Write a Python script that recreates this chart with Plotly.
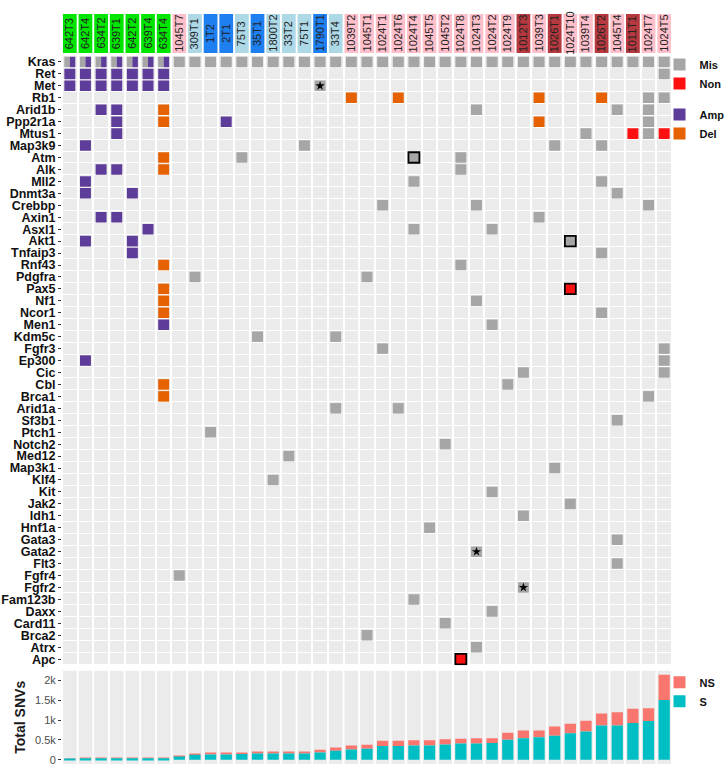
import plotly.graph_objects as go

# ---------------- data ----------------
samples = ["642T3", "642T4", "634T2", "639T1", "642T2", "639T4", "634T4", "1045T7",
           "309T1", "1T2", "2T1", "75T3", "35T1", "1800T2", "33T2", "75T1", "1790T1",
           "33T4", "1039T2", "1045T1", "1024T1", "1024T6", "1024T4", "1045T5", "1045T2",
           "1024T8", "1024T3", "1024T2", "1024T9", "1012T3", "1039T3", "1026T1",
           "1024T10", "1039T4", "1026T2", "1045T4", "1011T1", "1024T7", "1024T5"]
sample_group = (["G"] * 7 + ["P", "L", "B", "B", "L", "B", "L", "L", "L", "B", "L"]
                + ["P"] * 11 + ["D", "P", "D", "P", "P", "D", "P", "D", "P", "P"])
group_colors = {"G": "#00E600", "P": "#FFC0CB", "L": "#ADD8E6", "B": "#1E7FF0", "D": "#B5393E"}

genes = ["Kras", "Ret", "Met", "Rb1", "Arid1b", "Ppp2r1a", "Mtus1", "Map3k9", "Atm", "Alk",
         "Mll2", "Dnmt3a", "Crebbp", "Axin1", "Asxl1", "Akt1", "Tnfaip3", "Rnf43", "Pdgfra",
         "Pax5", "Nf1", "Ncor1", "Men1", "Kdm5c", "Fgfr3", "Ep300", "Cic", "Cbl", "Brca1",
         "Arid1a", "Sf3b1", "Ptch1", "Notch2", "Med12", "Map3k1", "Klf4", "Kit", "Jak2",
         "Idh1", "Hnf1a", "Gata3", "Gata2", "Flt3", "Fgfr4", "Fgfr2", "Fam123b", "Daxx",
         "Card11", "Brca2", "Atrx", "Apc"]

green = samples[:7]
amp_cells = ([("Kras", s) for s in green] + [("Ret", s) for s in green] + [("Met", s) for s in green]
             + [("Arid1b", "634T2"), ("Arid1b", "639T1"), ("Ppp2r1a", "639T1"), ("Ppp2r1a", "2T1"),
                ("Mtus1", "639T1"), ("Map3k9", "642T4"), ("Alk", "634T2"), ("Alk", "639T1"),
                ("Mll2", "642T4"), ("Dnmt3a", "642T4"), ("Dnmt3a", "642T2"), ("Axin1", "634T2"),
                ("Axin1", "639T1"), ("Asxl1", "639T4"), ("Akt1", "642T4"), ("Akt1", "642T2"),
                ("Tnfaip3", "642T2"), ("Men1", "634T4"), ("Ep300", "642T4")])
del_cells = [("Rb1", "1039T2"), ("Rb1", "1024T6"), ("Rb1", "1039T3"), ("Rb1", "1026T2"),
             ("Arid1b", "634T4"), ("Ppp2r1a", "634T4"), ("Ppp2r1a", "1039T3"), ("Atm", "634T4"),
             ("Alk", "634T4"), ("Rnf43", "634T4"), ("Pax5", "634T4"), ("Nf1", "634T4"),
             ("Ncor1", "634T4"), ("Cbl", "634T4"), ("Brca1", "634T4")]
non_cells = [("Mtus1", "1011T1"), ("Mtus1", "1024T5"), ("Pax5", "1024T10"), ("Apc", "1024T8")]
mis_cells = ([("Kras", s) for s in samples]
             + [("Ret", "1024T5"), ("Met", "1790T1"), ("Rb1", "1024T7"), ("Rb1", "1024T5"),
                ("Arid1b", "1024T3"), ("Arid1b", "1045T4"), ("Arid1b", "1024T7"),
                ("Ppp2r1a", "1024T7"), ("Mtus1", "1039T4"), ("Mtus1", "1024T7"),
                ("Map3k9", "75T1"), ("Map3k9", "1026T1"), ("Map3k9", "1026T2"),
                ("Atm", "75T3"), ("Atm", "1024T4"), ("Atm", "1024T8"), ("Alk", "1024T8"),
                ("Mll2", "1024T4"), ("Mll2", "1026T2"), ("Dnmt3a", "1045T4"),
                ("Crebbp", "1024T1"), ("Crebbp", "1024T3"), ("Crebbp", "1024T7"),
                ("Axin1", "1039T3"), ("Asxl1", "1024T4"), ("Asxl1", "1024T2"),
                ("Akt1", "1024T10"), ("Tnfaip3", "1026T2"), ("Rnf43", "1024T8"),
                ("Pdgfra", "309T1"), ("Pdgfra", "1045T1"), ("Nf1", "1024T3"), ("Ncor1", "1026T2"),
                ("Men1", "1024T2"), ("Kdm5c", "35T1"), ("Kdm5c", "33T4"), ("Fgfr3", "1024T1"),
                ("Fgfr3", "1024T5"), ("Ep300", "1024T5"), ("Cic", "1012T3"), ("Cic", "1024T5"),
                ("Cbl", "1024T9"), ("Brca1", "1024T7"), ("Arid1a", "33T4"), ("Arid1a", "1024T6"),
                ("Sf3b1", "1045T4"), ("Ptch1", "1T2"), ("Notch2", "1045T2"), ("Med12", "33T2"),
                ("Map3k1", "1026T1"), ("Klf4", "1800T2"), ("Kit", "1024T2"), ("Jak2", "1024T10"),
                ("Idh1", "1012T3"), ("Hnf1a", "1045T5"), ("Gata3", "1045T4"), ("Gata2", "1024T3"),
                ("Flt3", "1045T4"), ("Fgfr4", "1045T7"), ("Fgfr2", "1012T3"), ("Fam123b", "1024T4"),
                ("Daxx", "1024T2"), ("Card11", "1045T2"), ("Brca2", "1045T1"), ("Atrx", "1024T3")])
outlined = [("Atm", "1024T4"), ("Akt1", "1024T10"), ("Pax5", "1024T10"), ("Apc", "1024T8")]
starred = [("Met", "1790T1"), ("Gata2", "1024T3"), ("Fgfr2", "1012T3")]

snv_total = [30, 45, 45, 45, 45, 45, 50, 100, 150, 175, 175, 185, 185, 195, 200, 210, 250, 310,
             360, 380, 480, 480, 490, 490, 515, 530, 545, 545, 680, 740, 740, 840, 910, 985,
             1170, 1200, 1285, 1300, 2145]
snv_s = [25, 38, 38, 38, 38, 38, 40, 80, 125, 135, 135, 145, 160, 160, 160, 160, 185, 225,
         260, 275, 345, 345, 360, 360, 385, 410, 410, 420, 505, 540, 565, 605, 670, 715,
         865, 865, 925, 975, 1510]
snv_ns = [t - s for t, s in zip(snv_total, snv_s)]

# ---------------- layout helpers ----------------
W, H = 725, 771
ML, MR, MT, MB = 62, 52.5, 14, 6.8
PW = W - ML - MR
PH = H - MT - MB


def py(y):
    return (H - MB - y) / PH


def px(x):
    return (x - ML) / PW


FONT = "Liberation Sans, Arial, sans-serif"
col = {s: i for i, s in enumerate(samples)}
row = {g: i for i, g in enumerate(genes)}

types = [("Mis", mis_cells, "#A6A6A6", "g1"), ("Non", non_cells, "#FF1010", "g1"),
         ("Amp", amp_cells, "#5E3C99", "g2"), ("Del", del_cells, "#E66101", "g2")]

cell_types = {}
for name, cells, _, _ in types:
    for c in cells:
        cell_types.setdefault(c, []).append(name)

fig = go.Figure()

fig.add_trace(go.Heatmap(x=list(range(len(samples))), y=list(range(len(genes))),
                         z=[[0] * len(samples) for _ in genes],
                         colorscale=[[0, "#EBEBEB"], [1, "#EBEBEB"]], showscale=False,
                         xgap=2, ygap=1, hoverinfo="skip", xaxis="x", yaxis="y"))

CW, CH = 0.7, 0.88
for name, cells, color, grp in types:
    xs, bases, widths, lws = [], [], [], []
    for g, s in cells:
        shared = cell_types[(g, s)]
        k = len(shared)
        j = shared.index(name)
        w = CW / k
        xs.append(col[s] - CW / 2 + w * (j + 0.5) if k > 1 else col[s])
        widths.append(w)
        bases.append(row[g] - CH / 2)
        lws.append(1.8 if (g, s) in outlined else 0)
    fig.add_trace(go.Bar(x=xs, y=[CH] * len(xs), base=bases, width=widths,
                         marker=dict(color=color, line=dict(width=lws, color="black")),
                         name=name, legendgroup=grp, legend="legend",
                         xaxis="x", yaxis="y", hoverinfo="skip"))

fig.add_trace(go.Scatter(x=[col[s] for g, s in starred], y=[row[g] for g, s in starred],
                         mode="markers", marker=dict(symbol="star", size=7, color="black"),
                         showlegend=False, xaxis="x", yaxis="y", hoverinfo="skip"))

fig.add_trace(go.Bar(x=list(range(len(samples))), y=[1] * len(samples), base=0, width=0.88,
                     marker=dict(color=[group_colors[g] for g in sample_group], line=dict(width=0)),
                     showlegend=False, xaxis="x", yaxis="y3", hoverinfo="skip"))
annotations = []
for i, s in enumerate(samples):
    annotations.append(dict(x=i, y=0.5, xref="x", yref="y3", text=s, textangle=-90,
                            showarrow=False, font=dict(size=11, color="#222222", family=FONT)))

ylo, yhi = -107, 2252
fig.add_trace(go.Bar(x=list(range(len(samples))), y=[yhi - ylo] * len(samples), base=ylo,
                     width=0.88, marker=dict(color="#EBEBEB", line=dict(width=0)),
                     showlegend=False, xaxis="x", yaxis="y2", hoverinfo="skip"))
fig.add_trace(go.Bar(x=list(range(len(samples))), y=snv_ns, base=snv_s, width=0.72,
                     marker=dict(color="#F8766D", line=dict(width=0)), name="NS",
                     legend="legend2", xaxis="x", yaxis="y2"))
fig.add_trace(go.Bar(x=list(range(len(samples))), y=snv_s, base=0, width=0.72,
                     marker=dict(color="#00BFC4", line=dict(width=0)), name="S",
                     legend="legend2", xaxis="x", yaxis="y2"))

fig.update_layout(
    width=W, height=H, margin=dict(l=ML, r=MR, t=MT, b=MB, autoexpand=False),
    paper_bgcolor="white", plot_bgcolor="white", barmode="overlay",
    font=dict(family=FONT, color="#222222"),
    xaxis=dict(domain=[0, 1], range=[-0.5, len(samples) - 0.5], showgrid=False,
               zeroline=False, showticklabels=False, ticks="", anchor="y2", showline=False),
    yaxis=dict(domain=[py(665.3), py(56)], range=[len(genes) - 0.5, -0.5], showgrid=False,
               zeroline=False, tickmode="array", tickvals=list(range(len(genes))),
               ticktext=genes, ticks="outside", ticklen=3, tickcolor="#333333",
               tickfont=dict(size=12.5, color="#111111", family=FONT, weight="bold"),
               anchor="x", automargin=False),
    yaxis2=dict(domain=[0, py(670.7)], range=[ylo, yhi], showgrid=False, zeroline=False,
                tickmode="array", tickvals=[0, 500, 1000, 1500, 2000],
                ticktext=["0", "0.5k", "1k", "1.5k", "2k"], ticks="outside", ticklen=3,
                tickcolor="#333333", tickfont=dict(size=11, color="#4D4D4D", family=FONT),
                title=dict(text="Total SNVs", standoff=6,
                           font=dict(size=14, color="#1a1a1a", family=FONT, weight="bold")),
                anchor="x", automargin=False),
    yaxis3=dict(domain=[py(53), 1], range=[0, 1], showgrid=False, zeroline=False,
                showticklabels=False, ticks="", anchor="x"),
    legend=dict(x=px(660), y=py(50), xanchor="left", yanchor="top",
                bgcolor="rgba(0,0,0,0)", tracegroupgap=12, itemclick=False,
                font=dict(size=11, color="#111111", family=FONT, weight="bold")),
    legend2=dict(x=px(660), y=py(668), xanchor="left", yanchor="top",
                 bgcolor="rgba(0,0,0,0)", itemclick=False,
                 font=dict(size=11, color="#111111", family=FONT, weight="bold")),
    annotations=annotations,
    showlegend=True,
)

fig.write_html("out.html", config={"displayModeBar": False},
               post_script="document.body.style.margin='0px';")
